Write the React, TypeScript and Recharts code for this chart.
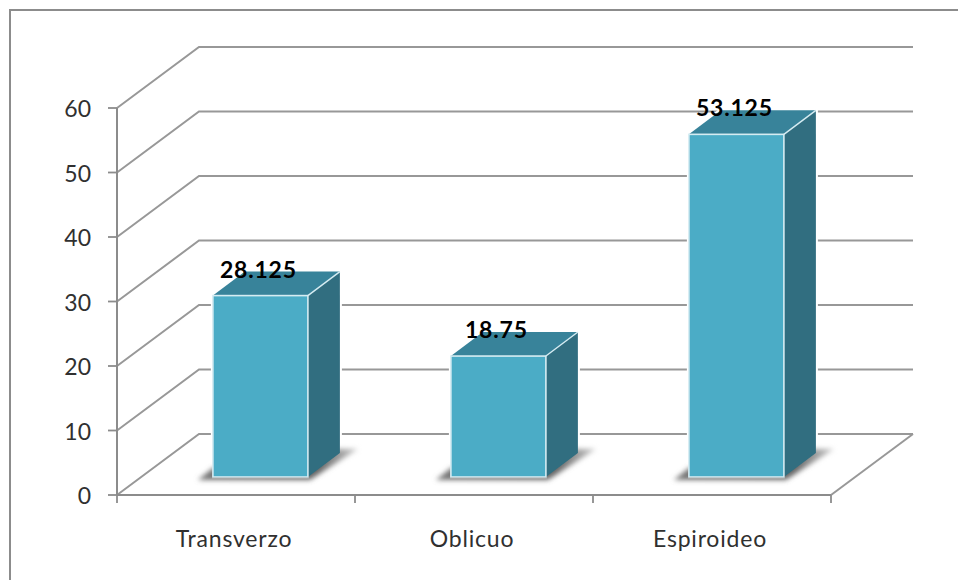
import { BarChart, Bar, XAxis, YAxis, CartesianGrid, LabelList } from "recharts";

const categories = ["Transverzo", "Oblicuo", "Espiroideo"];
const percentages = [28.125, 18.75, 53.125];
const yTicks = [0, 10, 20, 30, 40, 50, 60];

const data = categories.map((name, i) => ({ name, value: percentages[i] }));

const WIDTH = 958;
const HEIGHT = 580;
const MARGIN = { top: 108, right: 127, bottom: 0, left: 0 };
const Y_AXIS_WIDTH = 117;
const X_AXIS_HEIGHT = 85;
const BAND = (WIDTH - Y_AXIS_WIDTH - MARGIN.right) / categories.length;

// Depth of the box the chart sits in, and of each column inside it
const WALL_DX = 82;
const WALL_DY = 61;
const COL_DX = 32;
const COL_DY = 24;
const FLOOR_DX = 24.5;
const FLOOR_DY = 18;

const AXIS_COLOR = "#8c8c8c";
const GRID_COLOR = "#989898";
const TEXT_COLOR = "#303030";
const FONT = "Lato, 'Open Sans', sans-serif";

const FRONT = "#4bacc6";
const TOP = "#38839a";
const SIDE = "#316e80";
const EDGE = "#d5ecf2";

const pts = (list: number[][]) => list.map((p) => p.join(",")).join(" ");

// Back wall line plus the diagonal running along the side wall
const GridLine = (props: any) => {
  const { x1, x2, y1 } = props;
  const bx = x1 + WALL_DX;
  const by = y1 - WALL_DY;
  const isFloor = Math.abs(y1 - (HEIGHT - X_AXIS_HEIGHT)) < 1;
  return (
    <g fill="none" stroke={GRID_COLOR} strokeWidth={2}>
      <polyline points={pts([[x1, y1], [bx, by], [x2 + WALL_DX, by]])} />
      {isFloor && <line x1={x2} y1={y1} x2={x2 + WALL_DX} y2={by} />}
    </g>
  );
};

const Column3D = (props: any) => {
  const { x, y, width, height } = props;
  const fx = x + FLOOR_DX;
  const fy = y - FLOOR_DY;
  const r = fx + width;
  const b = fy + height;
  return (
    <g>
      {/* white halo keeps the grid lines clear of the column */}
      <polygon
        points={pts([[fx, b], [fx, fy], [fx + COL_DX, fy - COL_DY], [r + COL_DX, fy - COL_DY], [r + COL_DX, b - COL_DY], [r, b]])}
        fill="#fff"
        stroke="#fff"
        strokeWidth={4}
      />
      <polygon
        points={pts([[fx - 15, b + 3], [r + 2, b + 3], [r + 50, b - 28], [r + 24, b - 28], [fx, b - 9]])}
        fill="url(#shadowFade)"
        filter="url(#softShadow)"
      />
      <polygon points={pts([[fx, fy], [fx + COL_DX, fy - COL_DY], [r + COL_DX, fy - COL_DY], [r, fy]])} fill={TOP} />
      <polygon points={pts([[r, fy], [r + COL_DX, fy - COL_DY], [r + COL_DX, b - COL_DY], [r, b]])} fill={SIDE} />
      <rect x={fx} y={fy} width={width} height={height} fill={FRONT} stroke={EDGE} strokeWidth={1.6} />
      <line x1={r} y1={fy} x2={r + COL_DX} y2={fy - COL_DY} stroke={EDGE} strokeWidth={1.4} />
      <line x1={fx - 1} y1={b + 1.5} x2={r + 1} y2={b + 1.5} stroke="#a8a8a8" strokeWidth={1.5} />
    </g>
  );
};

const ValueLabel = (props: any) => {
  const { x, y, width, value } = props;
  return (
    <text
      x={x + width / 2 + FLOOR_DX - 2}
      y={y - FLOOR_DY - 27}
      textAnchor="middle"
      dominantBaseline="central"
      fontFamily={FONT}
      fontWeight={700}
      fontSize={23}
      letterSpacing={0.8}
      fill="#000"
    >
      {value}
    </text>
  );
};

// Category name at the band centre, tick marks on the band edges
const CategoryTick = (props: any) => {
  const { x, y, payload, index } = props;
  const left = x - BAND / 2;
  const right = x + BAND / 2;
  return (
    <g>
      <line x1={left} y1={y} x2={left} y2={y + 8} stroke={AXIS_COLOR} strokeWidth={1.8} />
      {index === categories.length - 1 && (
        <line x1={right} y1={y} x2={right} y2={y + 8} stroke={AXIS_COLOR} strokeWidth={1.8} />
      )}
      <text
        x={x - 2}
        y={y + 43}
        textAnchor="middle"
        dominantBaseline="central"
        fontFamily={FONT}
        fontSize={23}
        letterSpacing={0.8}
        fill={TEXT_COLOR}
      >
        {payload.value}
      </text>
    </g>
  );
};

export default function App() {
  return (
    <div style={{ position: "fixed", left: 0, top: 0, width: WIDTH, height: HEIGHT, background: "#fff", overflow: "hidden" }}>
      <div
        style={{
          position: "absolute",
          left: 9,
          top: 9,
          width: WIDTH,
          height: HEIGHT,
          borderLeft: "2px solid #8c8c8c",
          borderTop: "2px solid #8c8c8c",
        }}
      />
      <div style={{ position: "absolute", left: 0, top: 0 }}>
        <BarChart width={WIDTH} height={HEIGHT} data={data} margin={MARGIN} barCategoryGap="30%">
          <defs>
            <filter id="softShadow" x="-20%" y="-40%" width="140%" height="180%">
              <feGaussianBlur stdDeviation="2.4" />
            </filter>
            <linearGradient id="shadowFade" x1="0" y1="0" x2="1" y2="0">
              <stop offset="0" stopColor="#777" />
              <stop offset="0.75" stopColor="#666" />
              <stop offset="1" stopColor="#ccc" />
            </linearGradient>
          </defs>
          <CartesianGrid vertical={false} horizontal={GridLine} />
          <XAxis
            dataKey="name"
            height={X_AXIS_HEIGHT}
            interval={0}
            tickLine={false}
            tickSize={0}
            tickMargin={0}
            axisLine={{ stroke: AXIS_COLOR, strokeWidth: 2 }}
            tick={CategoryTick}
          />
          <YAxis
            width={Y_AXIS_WIDTH}
            domain={[0, 60]}
            ticks={yTicks}
            interval={0}
            tickSize={9}
            tickMargin={17}
            axisLine={{ stroke: AXIS_COLOR, strokeWidth: 2 }}
            tickLine={{ stroke: AXIS_COLOR, strokeWidth: 1.8 }}
            tick={{ fontFamily: FONT, fontSize: 23, fill: TEXT_COLOR, dy: 1 }}
          />
          <Bar dataKey="value" isAnimationActive={false} shape={Column3D}>
            <LabelList dataKey="value" content={ValueLabel} />
          </Bar>
        </BarChart>
      </div>
    </div>
  );
}
